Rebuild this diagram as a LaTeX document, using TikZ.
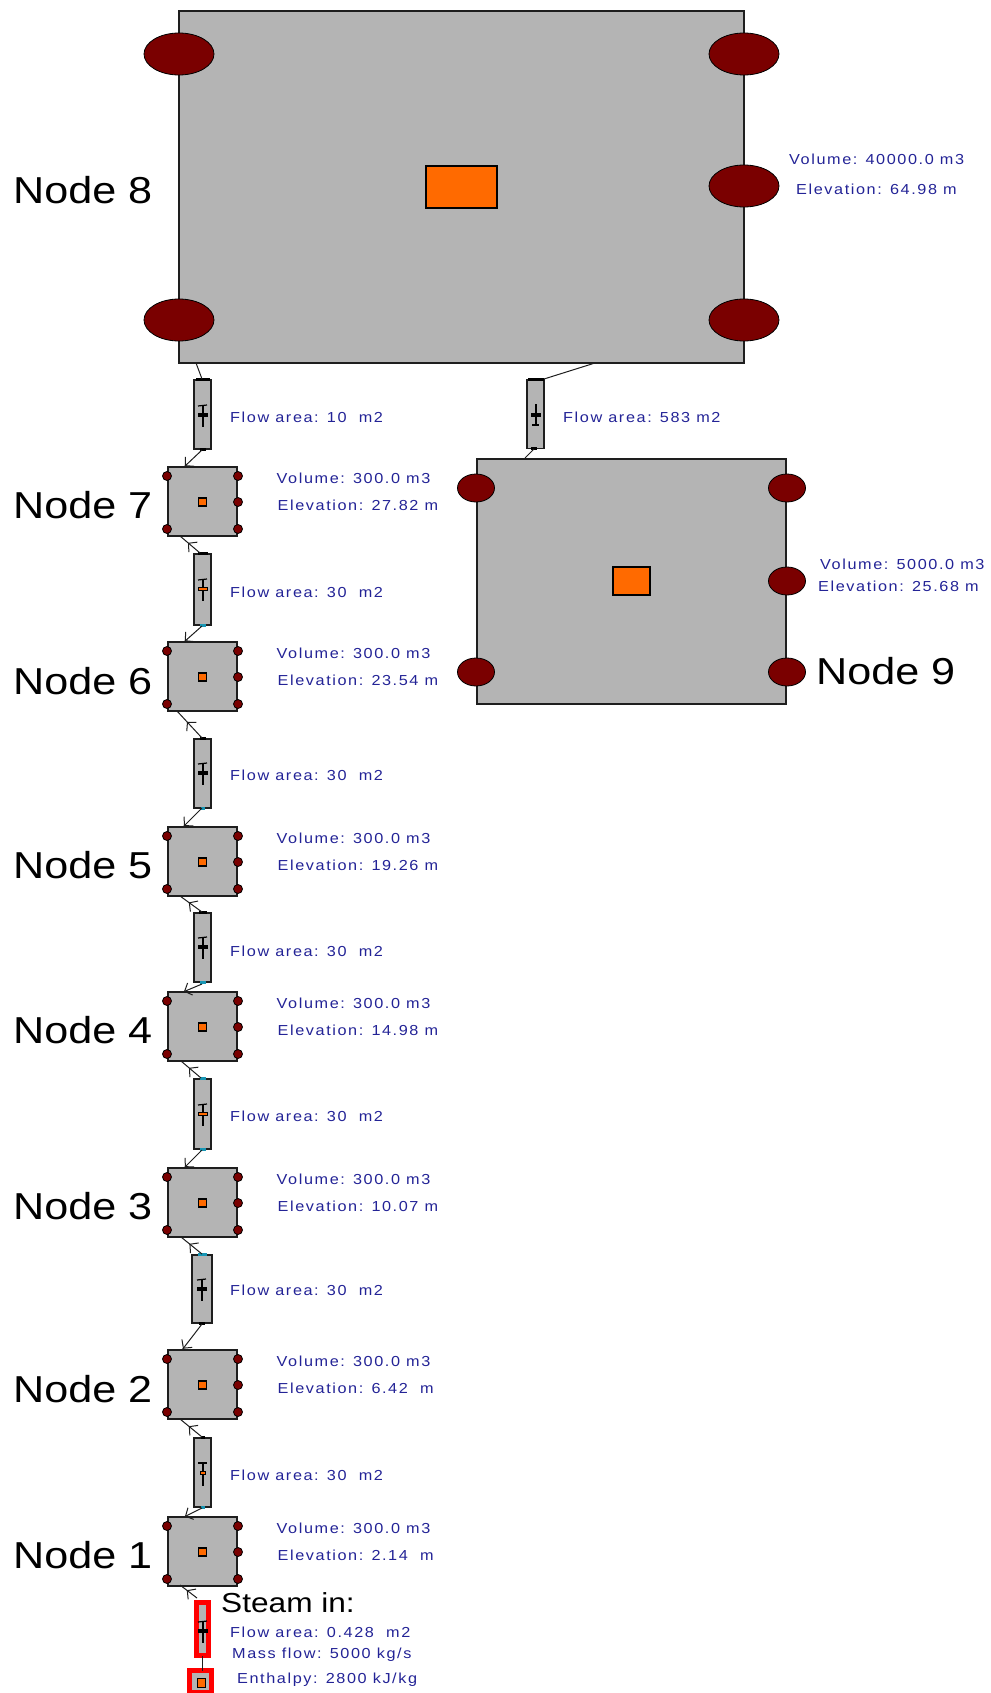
\documentclass[tikz,border=0pt]{standalone}
\usepackage{fontspec}
\setmainfont{Liberation Sans}
\newfontfamily\infofont[FakeStretch=1.12,LetterSpace=11]{Liberation Sans}
\newfontfamily\titlefont[FakeStretch=1.15]{Liberation Sans}
\usetikzlibrary{arrows.meta,decorations.markings,shapes.geometric}
\definecolor{volgray}{RGB}{180,180,180}
\definecolor{edge}{RGB}{30,30,30}
\definecolor{orng}{RGB}{255,106,0}
\definecolor{maroon}{RGB}{122,0,0}
\definecolor{cyanp}{RGB}{24,150,180}
\definecolor{infoblue}{RGB}{35,35,150}
\tikzset{
  x=1pt,y=-1pt,
  vol/.style={draw=edge,fill=volgray,line width=2pt,inner sep=0pt,outer sep=0pt},
  core/.style={draw=black,fill=orng,line width=1.3pt,inner sep=0pt,outer sep=0pt},
  port/.style={draw=black,fill=maroon,line width=.8pt,ellipse,inner sep=0pt,outer sep=0pt},
  pipebox/.style={draw=edge,fill=volgray,line width=1.6pt,inner sep=0pt,outer sep=0pt},
  redbox/.style={draw=red,fill=volgray,line width=5pt,inner sep=0pt,outer sep=0pt},
  link/.style={draw=edge,line width=1pt},
  barblink/.style={link,postaction={decorate},decoration={markings,
    mark=at position #1 with {\arrow{Straight Barb[length=6pt,width=13pt,line width=1pt]}}}},
  info/.style={anchor=base west,inner sep=0pt,text=infoblue,font=\infofont\fontsize{14.5}{16}\selectfont},
  title/.style={anchor=base west,inner sep=0pt,text=black,font=\titlefont\fontsize{37.5}{40}\selectfont},
  steam/.style={anchor=base west,inner sep=0pt,text=black,font=\titlefont\fontsize{27.5}{30}\selectfont},
}
% small volume: name, top y, label, label centre y, elevation text
\newcommand{\smallvol}[5]{%
  \node[vol,minimum width=69pt,minimum height=69pt] (#1) at (202.5,#2+34.5) {};
  \node[core,minimum width=8pt,minimum height=8pt] (#1core) at (202.5,#2+35) {};
  \foreach \px/\py/\pn in {167/9/a,238/9/b,238/35/c,167/62/d,238/62/e}
    \node[port,minimum width=9pt,minimum height=9pt] (#1\pn) at (\px,#2+\py) {};
  \node[title] (#1title) at (13,#4+13.5) {#3};
  \node[info] (#1vol) at (276.5,#2+16.5) {Volume: 300.0 m3};
  \node[info] (#1elev) at (277.5,#2+43) {Elevation: #5};
}
% pipe: name, cx, cy, width, height, top port colour, top port width, bottom port colour, bottom port width, bar fill
\newcommand{\pipe}[9]{%
  \node[pipebox,minimum width=#4pt,minimum height=#5pt] (#1) at (#2,#3) {};
  \fill[#6] (#2-#7/2,#3-#5/2-2) rectangle (#2+#7/2,#3-#5/2+1);
  \fill[#8] (#2-#9/2,#3+#5/2-1) rectangle (#2+#9/2,#3+#5/2+2);
}
\newcommand{\glyph}[3]{% cx, cy, bar fill
  \draw[black,line width=1.2pt] (#1,#2-10) -- (#1,#2+12);
  \draw[black,line width=1.2pt] (#1-5,#2-9) -- (#1+4,#2-10);
  \node[draw=black,fill=#3,line width=.8pt,inner sep=0pt,minimum width=9pt,minimum height=3pt] at (#1,#2) {};
}
\begin{document}
\begin{tikzpicture}
\useasboundingbox (0,0) rectangle (990,1693);
% Node 8
\node[vol,minimum width=565pt,minimum height=352pt] (n8) at (461.5,187) {};
\node[core,minimum width=71pt,minimum height=42pt] (n8core) at (461.5,187) {};
\foreach \px/\py/\pn in {179/54/a,744/54/b,744/186/c,179/320/d,744/320/e}
  \node[port,minimum width=70pt,minimum height=42pt] (n8\pn) at (\px,\py) {};
\node[title] (n8title) at (13,203.5) {Node 8};
\node[info] (n8vol) at (789,164.5) {Volume: 40000.0 m3};
\node[info] (n8elev) at (796,194.5) {Elevation: 64.98 m};
% Node 9
\node[vol,minimum width=309pt,minimum height=245pt] (n9) at (631.5,581.5) {};
\node[core,minimum width=37pt,minimum height=28pt] (n9core) at (631.5,581) {};
\foreach \px/\py/\pn in {476/488/a,787/488/b,787/581/c,476/672/d,787/672/e}
  \node[port,minimum width=37pt,minimum height=28pt] (n9\pn) at (\px,\py) {};
\node[title] (n9title) at (816,684) {Node 9};
\node[info] (n9vol) at (820,569) {Volume: 5000.0 m3};
\node[info] (n9elev) at (818,591.5) {Elevation: 25.68 m};
% Small volumes
\smallvol{n7}{467}{Node 7}{505}{27.82 m}
\smallvol{n6}{642}{Node 6}{681}{23.54 m}
\smallvol{n5}{827}{Node 5}{865}{19.26 m}
\smallvol{n4}{992}{Node 4}{1030}{14.98 m}
\smallvol{n3}{1168}{Node 3}{1206}{10.07 m}
\smallvol{n2}{1350}{Node 2}{1389}{6.42\ \ m}
\smallvol{n1}{1517}{Node 1}{1555}{2.14\ \ m}
% Pipes
\pipe{c1}{202.5}{414.5}{17}{69}{black}{14}{black}{6}
\glyph{203}{415}{black}
\pipe{c2}{202.5}{589.5}{17}{71}{black}{10}{cyanp}{6}
\glyph{203}{589}{orng}
\pipe{c3}{202.5}{773.5}{17}{69}{black}{6}{cyanp}{4}
\glyph{203}{773}{black}
\pipe{c4}{202.5}{947.5}{17}{69}{black}{8}{cyanp}{6}
\glyph{203}{947}{black}
\pipe{c5}{202.5}{1114}{17}{70}{cyanp}{6}{cyanp}{6}
\glyph{203}{1114}{orng}
\pipe{c6}{202}{1289}{20}{68}{cyanp}{9}{black}{6}
\glyph{202}{1289}{black}
\pipe{c7}{202.5}{1472.5}{17}{69}{black}{4}{cyanp}{4}
\draw[black,line width=1.2pt] (203,1463) -- (203,1486);
\draw[black,line width=1.2pt] (198,1463) -- (207,1463);
\node[draw=black,fill=orng,line width=.8pt,inner sep=0pt,minimum width=5pt,minimum height=3pt] (c7bar) at (203,1473) {};
\node[pipebox,minimum width=17pt,minimum height=69pt] (cr) at (535.5,414) {};
\fill[black] (528,378) rectangle (544,381);
\fill[black] (531,447) rectangle (537,450);
\draw[black,line width=1.2pt] (536,404) -- (536,425);
\draw[black,line width=1.2pt] (532,425) -- (539,425);
\node[draw=black,fill=black,line width=.8pt,inner sep=0pt,minimum width=9pt,minimum height=3pt] (crbar) at (536,415) {};
% Steam inlet
\node[redbox,minimum width=12pt,minimum height=53pt] (sp) at (202.5,1629) {};
\glyph{203}{1631}{black}
\node[redbox,minimum width=22pt,minimum height=22pt] (ss) at (200.5,1681.5) {};
\node[core,minimum width=8pt,minimum height=9pt] (sscore) at (201.5,1683) {};
\draw[link,line width=1.2pt] (sp.south) -- (sp.south|-ss.north);
% Connector end points
\coordinate (j8a) at (196,363); \coordinate (c1t) at (202,379);
\coordinate (c1b) at (202,450); \coordinate (j7t) at (184,467);
\coordinate (c2t) at (200,553); \coordinate (j7b) at (180,536);
\coordinate (c2b) at (202,626); \coordinate (j6t) at (184,642);
\coordinate (c3t) at (202,738); \coordinate (j6b) at (177,711);
\coordinate (c3b) at (202,808); \coordinate (j5t) at (183,827);
\coordinate (c4t) at (202,912); \coordinate (j5b) at (180,896);
\coordinate (c4b) at (202,984); \coordinate (j4t) at (183,992);
\coordinate (c5t) at (201,1078); \coordinate (j4b) at (181,1061);
\coordinate (c5b) at (202,1150); \coordinate (j3t) at (184,1168);
\coordinate (c6t) at (202,1254); \coordinate (j3b) at (181,1237);
\coordinate (c6b) at (202,1324); \coordinate (j2t) at (182,1350);
\coordinate (c7t) at (202,1437); \coordinate (j2b) at (180,1419);
\coordinate (c7b) at (202,1508); \coordinate (j1t) at (184,1517);
\coordinate (spt) at (197,1598); \coordinate (j1b) at (180,1585);
\coordinate (j8b) at (595,363); \coordinate (crt) at (544,379);
\coordinate (crb) at (534,449); \coordinate (j9t) at (525,458);
% Connectors
\draw[link] (c1t) -- (j8a);
\draw[barblink=.95] (c1b) -- (j7t);
\draw[barblink=.6] (c2t) -- (j7b);
\draw[barblink=.95] (c2b) -- (j6t);
\draw[barblink=.6] (c3t) -- (j6b);
\draw[barblink=.95] (c3b) -- (j5t);
\draw[barblink=.6] (c4t) -- (j5b);
\draw[barblink=.95] (c4b) -- (j4t);
\draw[barblink=.6] (c5t) -- (j4b);
\draw[barblink=.95] (c5b) -- (j3t);
\draw[barblink=.6] (c6t) -- (j3b);
\draw[barblink=.95] (c6b) -- (j2t);
\draw[barblink=.6] (c7t) -- (j2b);
\draw[barblink=.95] (c7b) -- (j1t);
\draw[barblink=.6] (spt) -- (j1b);
\draw[link] (crt) -- (j8b);
\draw[link] (crb) -- (j9t);
% Flow area labels
\node[info] (f1) at (230,422) {Flow area: 10\ \ m2};
\node[info] (f2) at (230,597) {Flow area: 30\ \ m2};
\node[info] (f3) at (230,780.5) {Flow area: 30\ \ m2};
\node[info] (f4) at (230,956.5) {Flow area: 30\ \ m2};
\node[info] (f5) at (230,1121.5) {Flow area: 30\ \ m2};
\node[info] (f6) at (230,1295.5) {Flow area: 30\ \ m2};
\node[info] (f7) at (230,1480.5) {Flow area: 30\ \ m2};
\node[info] (fr) at (563,422) {Flow area: 583 m2};
\node[steam] (st) at (221,1612) {Steam in:};
\node[info] (s1) at (230,1637.5) {Flow area: 0.428\ \ m2};
\node[info] (s2) at (232,1658.5) {Mass flow: 5000 kg/s};
\node[info] (s3) at (237,1683.5) {Enthalpy: 2800 kJ/kg};
\end{tikzpicture}
\end{document}
